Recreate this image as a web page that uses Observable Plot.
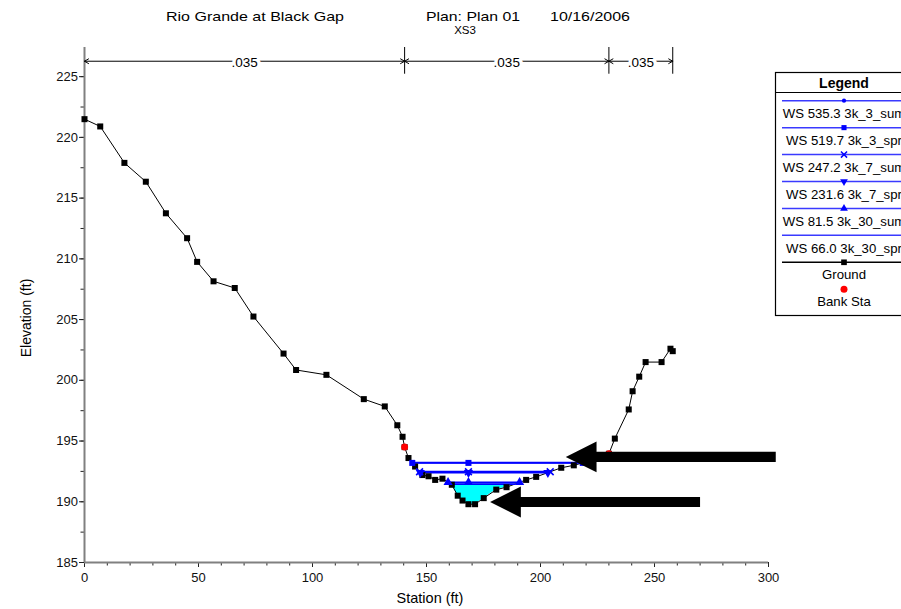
<!DOCTYPE html>
<html><head><meta charset="utf-8">
<script src="https://cdn.jsdelivr.net/npm/d3@7"></script>
<script src="https://cdn.jsdelivr.net/npm/@observablehq/plot@0.6"></script>
<style>
html,body{margin:0;padding:0;background:#fff;overflow:hidden}
</style></head><body><div id="chart"></div>
<script>
// ---------------- data ----------------
const groundStation = [0, 6.9, 17.5, 26.9, 35.7, 45.0, 49.4, 56.6, 65.9, 74.1, 87.3, 92.8, 106.1, 122.5, 131.7, 137.2, 139.5, 140.4, 142.1, 145.0, 148.2, 150.9, 153.8, 157.0, 161.1, 163.7, 165.8, 168.4, 171.3, 175.1, 180.6, 185.1, 193.7, 198.1, 209.1, 214.6, 220.5, 225.5, 230.0, 232.6, 238.7, 240.4, 243.3, 246.1, 253.1, 257.0, 258.0];
const groundElev    = [221.5, 220.9, 217.9, 216.35, 213.75, 211.7, 209.75, 208.15, 207.6, 205.25, 202.2, 200.85, 200.45, 198.45, 197.85, 196.3, 195.35, 194.5, 193.6, 192.9, 192.2, 192.1, 191.8, 191.9, 191.4, 190.5, 190.1, 189.8, 189.8, 190.3, 191.0, 191.2, 191.8, 192.05, 192.8, 193.0, 193.3, 193.6, 193.95, 195.2, 197.6, 199.1, 200.3, 201.5, 201.5, 202.6, 202.4];
const bankStation = [140.4, 230.0];
const bankElev = [194.5, 193.95];
const wsNames = ["WS 535.3 3k_3_sum", "WS 519.7 3k_3_spr", "WS 247.2 3k_7_sum", "WS 231.6 3k_7_spr", "WS 81.5 3k_30_sum", "WS 66.0 3k_30_spr"];
const wsElev = [193.22, 193.2, 192.47, 192.4, 191.6, 191.45];
const wsSymbol = ["circle", "square", "times", "triangle-down", "triangle", null];
const nValues = [".035", ".035", ".035"];
const xTicks = [0, 50, 100, 150, 200, 250, 300];
const yTicks = [185, 190, 195, 200, 205, 210, 215, 220, 225];
const titleParts = ["Rio Grande at Black Gap", "Plan: Plan 01", "10/16/2006"];
const subtitle = "XS3";
const xLabel = "Station (ft)";
const yLabel = "Elevation (ft)";
const legendTitle = "Legend";
const groundLabel = "Ground";
const bankLabel = "Bank Sta";
// annotation arrows (pointing left)
const arrowTipStation = [211.3, 178.1];
const arrowTailStation = [303.4, 270.2];
const arrowElev = [193.65, 189.94];

// ---------------- derived ----------------
const FONT = "'Liberation Sans', Arial, sans-serif";
const BLUE = "#0000ff";
const n = groundStation.length;
const ground = groundStation.map((x, i) => ({x, y: groundElev[i]}));
const iMin = d3.minIndex(groundElev);
const thalweg = groundStation[iMin];
function interp(a, b, ws) {
  const t = (ws - groundElev[a]) / (groundElev[b] - groundElev[a]);
  return groundStation[a] + t * (groundStation[b] - groundStation[a]);
}
function crossings(ws) {
  let i = iMin; while (i > 0 && groundElev[i - 1] < ws) i--;
  let j = iMin; while (j < n - 1 && groundElev[j + 1] < ws) j++;
  return {xl: interp(i - 1, i, ws), xr: interp(j, j + 1, ws), i, j};
}
const wsLines = [], wsMarks = [];
wsNames.forEach((name, k) => {
  const ws = wsElev[k], c = crossings(ws);
  wsLines.push({k, x: c.xl, y: ws}, {k, x: c.xr, y: ws});
  if (wsSymbol[k]) [c.xl, thalweg, c.xr].forEach(x => wsMarks.push({k, x, y: ws, s: wsSymbol[k]}));
});
// fill for lowest profile
const lowWs = wsElev[wsElev.length - 1];
const lc = crossings(lowWs);
const fillPts = [{x: lc.xl, y1: lowWs, y2: lowWs}];
for (let i = lc.i; i <= lc.j; i++) fillPts.push({x: groundStation[i], y1: groundElev[i], y2: lowWs});
fillPts.push({x: lc.xr, y1: lowWs, y2: lowWs});

// arrows
const HEAD_LEN = 13.5, HEAD_HALF = 1.27, BAR_HALF = 0.42;
const arrowPts = arrowTipStation.flatMap((tip, k) => {
  const y = arrowElev[k], b = tip + HEAD_LEN, tail = arrowTailStation[k];
  return [
    {k, x: tip, y1: y, y2: y},
    {k, x: b, y1: y - HEAD_HALF, y2: y + HEAD_HALF},
    {k, x: b, y1: y - BAR_HALF, y2: y + BAR_HALF},
    {k, x: tail, y1: y - BAR_HALF, y2: y + BAR_HALF}
  ];
});

// n-value brackets
const Y_TOP = 227.4, N_LINE = 226.27, N_TICK_BOTTOM = 225.2;
const nStations = [groundStation[0], bankStation[0], bankStation[1], groundStation[n - 1]];
const nSegs = nValues.map((v, k) => ({a: nStations[k], b: nStations[k + 1], mid: (nStations[k] + nStations[k + 1]) / 2, y: N_LINE, t: v}));
const nTicks = nStations.slice(1).map(x => ({x, y1: N_TICK_BOTTOM, y2: Y_TOP}));

// down triangle symbol
const triangleDown = {
  draw(context, size) {
    const y = -Math.sqrt(size / (Math.sqrt(3) * 3));
    context.moveTo(0, -y * 2);
    context.lineTo(-Math.sqrt(3) * y, y);
    context.lineTo(Math.sqrt(3) * y, y);
    context.closePath();
  }
};
const symFor = s => s === "triangle-down" ? triangleDown : s;

const minorX = d3.range(0, 301, 10);
const minorY = d3.range(185, 227.4, 2.5);

const chart = Plot.plot({
  width: 901, height: 609,
  marginLeft: 84, marginRight: 133, marginTop: 47, marginBottom: 47,
  style: {fontFamily: FONT, fontSize: "13px", background: "white", color: "black"},
  x: {domain: [0, 300]},
  y: {domain: [185, Y_TOP]},
  marks: [
    Plot.axisX(minorX, {tickSize: 3.5, tickFormat: () => "", label: null, stroke: "#222"}),
    Plot.axisX(xTicks, {tickSize: 5, tickPadding: 5, label: null, stroke: "#222", fill: "#111"}),
    Plot.axisY(minorY, {tickSize: 3.5, tickFormat: () => "", label: null, stroke: "#222"}),
    Plot.axisY(yTicks, {tickSize: 5, tickPadding: 1.5, label: null, stroke: "#222", fill: "#111"}),
    Plot.ruleY([185], {stroke: "#808080", strokeWidth: 2}),
    Plot.ruleX([0], {stroke: "#808080", strokeWidth: 2}),
    // n-value brackets
    Plot.ruleX(nTicks, {x: "x", y1: "y1", y2: "y2", stroke: "black", strokeWidth: 1}),
    Plot.arrow(nSegs, {x1: "mid", x2: "a", y1: "y", y2: "y", stroke: "black", strokeWidth: 1, headLength: 7}),
    Plot.arrow(nSegs, {x1: "mid", x2: "b", y1: "y", y2: "y", stroke: "black", strokeWidth: 1, headLength: 7}),
    Plot.text(nSegs, {x: "mid", y: "y", text: "t", fill: "black", stroke: "white", strokeWidth: 7, paintOrder: "stroke", fontSize: 13.5, dy: 1}),
    // water
    Plot.areaY(fillPts, {x: "x", y1: "y1", y2: "y2", fill: "#00ffff"}),
    Plot.line(ground, {x: "x", y: "y", stroke: "black", strokeWidth: 1}),
    Plot.line(wsLines, {x: "x", y: "y", z: "k", stroke: BLUE, strokeWidth: 1.8}),
    Plot.dot(ground, {x: "x", y: "y", symbol: "square", r: 3.4, fill: "black"}),
    Plot.dot(bankStation.map((x, i) => ({x, y: bankElev[i]})), {x: "x", y: "y", r: 3.5, fill: "#ff0000"}),
    Plot.dot(wsMarks.filter(d => d.s === "times"), {x: "x", y: "y", symbol: "times", r: 3.2, stroke: BLUE, strokeWidth: 1.6}),
    Plot.dot(wsMarks.filter(d => d.s === "circle"), {x: "x", y: "y", symbol: "circle", r: 2, fill: BLUE}),
    Plot.dot(wsMarks.filter(d => d.s !== "times" && d.s !== "circle"), {x: "x", y: "y", symbol: d => symFor(d.s), r: 3.4, fill: BLUE}),
    // annotation arrows
    Plot.areaY(arrowPts, {x: "x", y1: "y1", y2: "y2", z: "k", fill: "black"})
  ]
});
document.getElementById("chart").appendChild(chart);

// ---------------- titles, labels, legend ----------------
const svg = d3.select(chart);
const tg = svg.append("g").attr("font-family", FONT).attr("fill", "black");
const titleX = [255, 473, 590], titleW = [178, 94, 80];
titleParts.forEach((t, i) => {
  tg.append("text").attr("x", titleX[i]).attr("y", 20.5).attr("font-size", 13.5)
    .attr("textLength", titleW[i]).attr("lengthAdjust", "spacingAndGlyphs").text(t);
});
tg.append("text").attr("x", 465).attr("y", 33.5).attr("font-size", 11.5).attr("text-anchor", "middle").text(subtitle);
tg.append("text").attr("x", 430).attr("y", 603).attr("font-size", 14.5).attr("text-anchor", "middle").text(xLabel);
tg.append("text").attr("transform", "translate(31,318) rotate(-90)").attr("font-size", 14).attr("text-anchor", "middle").text(yLabel);

// legend
const lg = svg.append("g").attr("font-family", FONT);
const LX = 775.5, LT = 72.5, LB = 315.5, CX = 844;
lg.append("rect").attr("x", LX).attr("y", LT).attr("width", 160).attr("height", LB - LT).attr("fill", "white").attr("stroke", "black").attr("stroke-width", 1.2);
lg.append("line").attr("x1", LX).attr("x2", 935).attr("y1", 92.5).attr("y2", 92.5).attr("stroke", "black").attr("stroke-width", 1.2);
lg.append("text").attr("x", CX).attr("y", 88).attr("text-anchor", "middle").attr("font-weight", "bold").attr("font-size", 14).text(legendTitle);
const rowY = k => 100.7 + k * 26.93;
wsNames.forEach((name, k) => {
  const y = rowY(k);
  lg.append("line").attr("x1", 782).attr("x2", 935).attr("y1", y).attr("y2", y).attr("stroke", "#3a3aff").attr("stroke-width", 1.5);
  const s = wsSymbol[k];
  if (s) {
    const type = s === "circle" ? d3.symbolCircle : s === "square" ? d3.symbolSquare : s === "times" ? d3.symbolTimes : s === "triangle" ? d3.symbolTriangle : triangleDown;
    const size = s === "circle" ? 14 : 26;
    const p = lg.append("path").attr("d", d3.symbol(type, size)()).attr("transform", `translate(${CX},${y})`);
    if (s === "times") p.attr("fill", "none").attr("stroke", BLUE).attr("stroke-width", 1.5);
    else p.attr("fill", BLUE);
  }
  lg.append("text").attr("x", CX).attr("y", y + 17.3).attr("text-anchor", "middle").attr("font-size", 13.2).text(name);
});
const gy = rowY(6);
lg.append("line").attr("x1", 782).attr("x2", 935).attr("y1", gy).attr("y2", gy).attr("stroke", "black").attr("stroke-width", 1.5);
lg.append("path").attr("d", d3.symbol(d3.symbolSquare, 32)()).attr("transform", `translate(${CX},${gy})`).attr("fill", "black");
lg.append("text").attr("x", CX).attr("y", gy + 16.5).attr("text-anchor", "middle").attr("font-size", 13.2).text(groundLabel);
lg.append("circle").attr("cx", CX).attr("cy", 289.3).attr("r", 3.5).attr("fill", "#ff0000");
lg.append("text").attr("x", CX).attr("y", 306).attr("text-anchor", "middle").attr("font-size", 13.2).text(bankLabel);
</script>
</body></html>
